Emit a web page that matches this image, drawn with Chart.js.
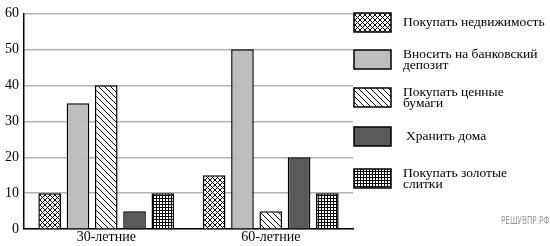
<!DOCTYPE html>
<html>
<head>
<meta charset="utf-8">
<script src="https://cdn.jsdelivr.net/npm/chart.js@4.4.0/dist/chart.umd.min.js"></script>
<style>
  html, body { margin: 0; padding: 0; background: #fff; }
  #myChart { display: block; }
</style>
</head>
<body>
<canvas id="myChart" width="550" height="246"></canvas>
<script>
'use strict';

// data

let categories = ['30-летние', '60-летние'];
let legendLines = [
  ['Покупать недвижимость'],
  ['Вносить на банковский', 'депозит'],
  ['Покупать ценные', 'бумаги'],
  ['Хранить дома'],
  ['Покупать золотые', 'слитки']
];
let realEstate = [10, 15];
let bankDeposit = [35, 50];
let securities = [40, 5];
let keepAtHome = [5, 20];
let goldBars = [10, 10];
let yMax = 60;
let yStep = 10;

let serifFont = '"Liberation Serif", "Times New Roman", serif';

// fill patterns

function makePattern(size, draw) {
  let tile = document.createElement('canvas');
  tile.width = size;
  tile.height = size;
  let c = tile.getContext('2d');
  c.fillStyle = '#fff';
  c.fillRect(0, 0, size, size);
  c.strokeStyle = '#000';
  c.lineWidth = 1;
  draw(c, size);
  return document.createElement('canvas').getContext('2d').createPattern(tile, 'repeat');
}

let crossHatch = makePattern(5, function (c, s) {
  c.beginPath();
  c.moveTo(0, 0); c.lineTo(s, s);
  c.moveTo(s, 0); c.lineTo(0, s);
  c.stroke();
});

let backSlash = makePattern(6, function (c, s) {
  c.beginPath();
  c.moveTo(-1, -1); c.lineTo(s + 1, s + 1);
  c.moveTo(-1, s - 1); c.lineTo(1, s + 1);
  c.moveTo(s - 1, -1); c.lineTo(s + 1, 1);
  c.stroke();
});

let smallGrid = makePattern(3, function (c, s) {
  c.fillStyle = '#000';
  c.fillRect(0, 0, s, 1);
  c.fillRect(0, 0, 1, s);
});

let fills = [crossHatch, '#bebebe', backSlash, '#5a5a5a', smallGrid];
let seriesValues = [realEstate, bankDeposit, securities, keepAtHome, goldBars];

let datasets = [];
for (let i = 0; i < seriesValues.length; i++) {
  datasets.push({
    label: legendLines[i].join(' '),
    data: seriesValues[i],
    backgroundColor: fills[i],
    borderColor: '#000',
    borderWidth: 1.5,
    categoryPercentage: 0.86,
    barPercentage: 0.8
  });
}

// legend + watermark drawn on the right side

let sideLegend = {
  id: 'sideLegend',
  afterDraw: function (chart) {
    let ctx = chart.ctx;
    let boxTops = [13, 50, 88, 127, 169];
    let textIndent = [0, 0, 0, 3, 0];
    ctx.save();
    for (let i = 0; i < chart.data.datasets.length; i++) {
      let ds = chart.data.datasets[i];
      let top = boxTops[i];
      ctx.fillStyle = ds.backgroundColor;
      ctx.fillRect(354, top, 37, 19);
      ctx.strokeStyle = '#000';
      ctx.lineWidth = 1.5;
      ctx.strokeRect(354, top, 37, 19);

      let lines = legendLines[i];
      ctx.fillStyle = '#000';
      ctx.font = '13.5px ' + serifFont;
      ctx.textBaseline = 'middle';
      ctx.textAlign = 'left';
      let mid = top + 9.5;
      let start = mid - (lines.length - 1) * 5.5;
      for (let j = 0; j < lines.length; j++) {
        ctx.fillText(lines[j], 403 + textIndent[i], start + j * 11);
      }
    }
    ctx.fillStyle = '#9a9a9a';
    ctx.font = '10px "DejaVu Sans"';
    ctx.textBaseline = 'middle';
    ctx.translate(501, 221);
    ctx.scale(0.72, 1);
    ctx.fillText('РЕШУВПР.РФ', 0, 0);
    ctx.restore();
  }
};

let config = {
  type: 'bar',
  data: {
    labels: categories,
    datasets: datasets
  },
  options: {
    responsive: false,
    animation: false,
    layout: {
      padding: { left: 0, right: 197, top: -3, bottom: 0 }
    },
    plugins: {
      legend: { display: false },
      tooltip: { enabled: false }
    },
    scales: {
      x: {
        grid: { display: false, drawTicks: false },
        border: { display: true, color: '#000', width: 1.5 },
        ticks: {
          color: '#000',
          padding: 0,
          font: { family: serifFont, size: 14 }
        }
      },
      y: {
        min: 0,
        max: yMax,
        grid: { color: '#b3b3b3', lineWidth: 1.5, drawTicks: false },
        border: { display: true, color: '#000', width: 1.5 },
        ticks: {
          stepSize: yStep,
          color: '#000',
          padding: 5,
          font: { family: serifFont, size: 14 }
        }
      }
    }
  },
  plugins: [sideLegend]
};

let canvasChart = document.getElementById('myChart');
const myChart = new Chart(canvasChart, config);
</script>
</body>
</html>
